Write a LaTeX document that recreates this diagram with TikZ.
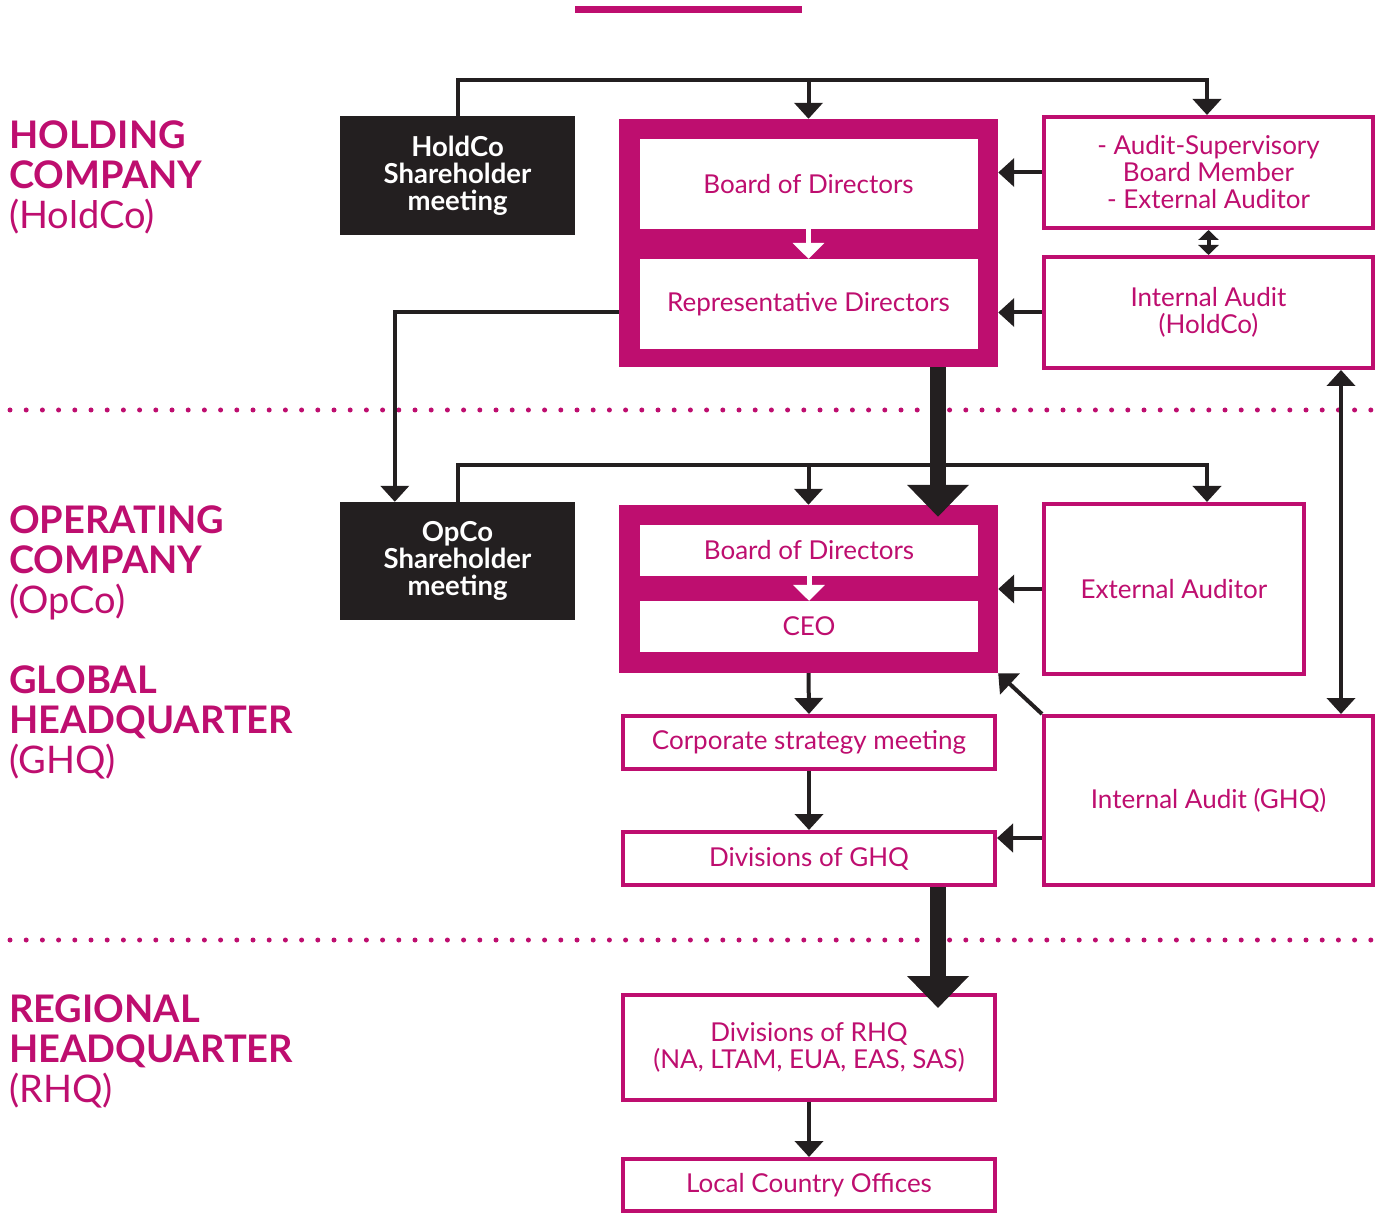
\documentclass[tikz,border=0pt]{standalone}
\usepackage{fontspec}
\setmainfont{Lato}
\usepackage{tikz}
\usetikzlibrary{positioning,arrows.meta}
\definecolor{magen}{RGB}{190,14,111}
\definecolor{ink}{RGB}{35,31,32}

\begin{document}
\begin{tikzpicture}[x=1pt,y=-1pt,
    heading/.style={font=\bfseries\fontsize{38}{40}\selectfont, text=magen, align=left, anchor=north west, inner sep=0pt},
    meetbox/.style={fill=ink, text=white, font=\bfseries\fontsize{27.5}{27}\selectfont, align=center, minimum width=235pt, minimum height=119pt},
    outerbox/.style={fill=magen, inner sep=0pt},
    innerbox/.style={fill=white, text=magen, font=\fontsize{26}{27}\selectfont, align=center, minimum width=338pt, inner sep=0pt},
    orgbox/.style={draw=magen, line width=4pt, fill=white, text=magen, font=\fontsize{26}{27}\selectfont, align=center, inner sep=0pt},
    conn/.style={draw=ink, line width=4pt, -{Triangle[width=28pt,length=16pt]}},
    bothconn/.style={draw=ink, line width=4pt, {Triangle[width=28pt,length=16pt]}-{Triangle[width=28pt,length=16pt]}},
    smallboth/.style={draw=ink, line width=4pt, {Triangle[width=20pt,length=10pt]}-{Triangle[width=20pt,length=10pt]}},
    bigconn/.style={draw=ink, line width=16pt, -{Triangle[width=60pt,length=32pt]}},
    whiteconn/.style={draw=white, line width=5pt, -{Triangle[width=31pt,length=16pt]}},
    dots/.style={draw=magen, line width=5pt, line cap=round, dash pattern=on 0pt off 16.2pt}]
    \useasboundingbox (0,0) rectangle (1385,1214);
    \fill[magen] (575,6) rectangle (802,13);
    \draw[dots] (10,410) -- (1385,410);
    \draw[dots] (10,940) -- (1385,940);

    \node[heading] (hold) at (9,121) {HOLDING\\COMPANY\\{\mdseries(HoldCo)}};
    \node[heading] (opco) at (9,506) {OPERATING\\COMPANY\\{\mdseries(OpCo)}};
    \node[heading] (ghq) at (9,666) {GLOBAL\\HEADQUARTER\\{\mdseries(GHQ)}};
    \node[heading] (rhq) at (9,995) {REGIONAL\\HEADQUARTER\\{\mdseries(RHQ)}};

    \node[meetbox] (hsm) at (457.5,175.5) {HoldCo\\Shareholder\\meeting};
    \node[outerbox, minimum width=379pt, minimum height=248pt] (hbox) at (808.5,243) {};
    \node[innerbox, minimum height=90pt] (hbod) at (808.5,184) {Board of Directors};
    \node[innerbox, minimum height=90pt] (hrep) at (808.5,304) {Representative Directors};
    \node[orgbox, minimum width=329pt, minimum height=111pt] (asb) at (1208.5,172.5) {- Audit-Supervisory\\Board Member\\- External Auditor};
    \node[orgbox, minimum width=329pt, minimum height=111pt] (iah) at (1208.5,312.5) {Internal Audit\\(HoldCo)};

    \node[meetbox, minimum height=118pt] (osm) at (457.5,561) {OpCo\\Shareholder\\meeting};
    \node[outerbox, minimum width=379pt, minimum height=168pt] (obox) at (808.5,589) {};
    \node[innerbox, minimum height=51pt] (obod) at (809,550.5) {Board of Directors};
    \node[innerbox, minimum height=51pt] (oceo) at (809,626.5) {CEO};
    \node[orgbox, minimum width=260pt, minimum height=170pt] (ext) at (1174,589) {External Auditor};
    \node[orgbox, minimum width=329pt, minimum height=169pt] (iag) at (1208.5,800.5) {Internal Audit (GHQ)};

    \node[orgbox, minimum width=372pt, minimum height=53pt] (csm) at (809,742.5) {Corporate strategy meeting};
    \node[orgbox, minimum width=372pt, minimum height=53pt] (dgh) at (809,858.5) {Divisions of GHQ};
    \node[orgbox, minimum width=372pt, minimum height=105pt] (drh) at (809,1047.5) {Divisions of RHQ\\(NA, LTAM, EUA, EAS, SAS)};
    \node[orgbox, minimum width=372pt, minimum height=52pt] (lco) at (809,1185) {Local Country Offices};

    \draw[whiteconn] (hbod.south) -- (hrep.north);
    \draw[whiteconn] (obod.south) -- (oceo.north);

    \coordinate (htop) at (hbox.north |- 0,80);
    \draw[conn] (hsm.north) |- (htop) -| ([xshift=-1.5pt]asb.north);
    \draw[conn] (htop) -- (hbox.north);
    \draw[conn] (asb.west) -- (asb.west -| hbox.east);
    \draw[conn] (iah.west) -- (iah.west -| hbox.east);
    \draw[smallboth] (asb.south) -- (iah.north);
    \draw[conn] (iah.west -| hbox.west) -| ([xshift=55pt]osm.north west);
    \draw[bigconn, shorten >=-12pt] ([xshift=129.5pt]hbox.south) -- ([xshift=129.5pt]obox.north);

    \coordinate (otop) at (obox.north |- 0,465);
    \draw[conn] (osm.north) |- (otop) -| ([xshift=33pt]ext.north);
    \draw[conn] (otop) -- (obox.north);
    \draw[conn] (ext.west) -- (ext.west -| obox.east);
    \draw[bothconn] ([xshift=132.5pt]iah.south) -- ([xshift=132.5pt]iag.north);
    \draw[conn] (iag.north west) -- (obox.south east);

    \draw[conn] (obox.south) -- (csm.north);
    \draw[conn] (csm.south) -- (dgh.north);
    \coordinate (iaout) at ([yshift=-37.5pt]iag.west);
    \draw[conn] (iaout) -- (iaout -| dgh.east);
    \draw[bigconn, shorten >=-15pt] ([xshift=129pt]dgh.south) -- ([xshift=129pt]drh.north);
    \draw[conn] (drh.south) -- (lco.north);
\end{tikzpicture}
\end{document}
